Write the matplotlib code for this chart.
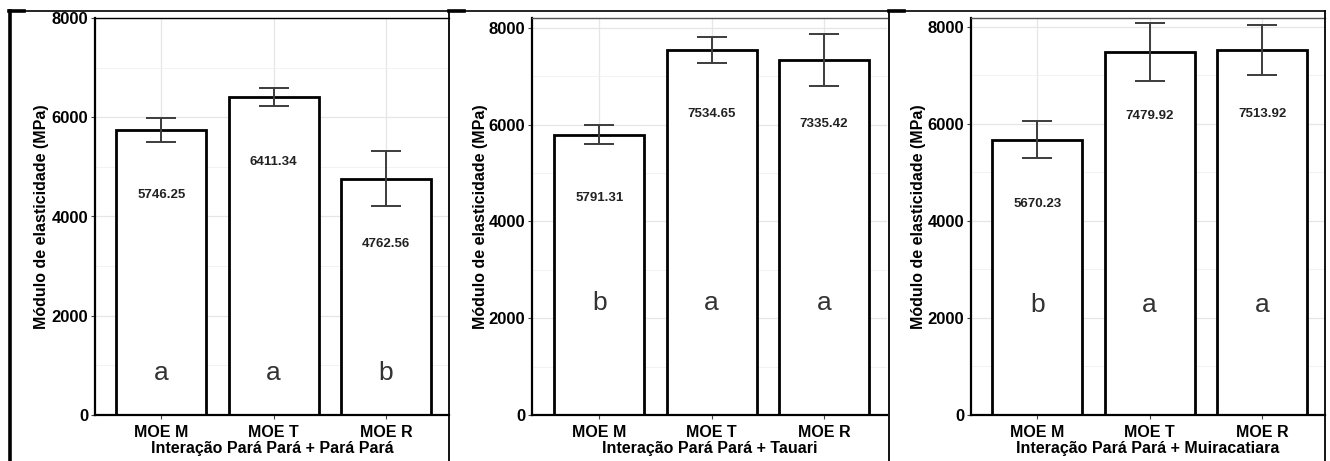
import numpy as np
import matplotlib.pyplot as plt
from matplotlib.lines import Line2D

plt.rcParams['font.family'] = ['Liberation Sans', 'DejaVu Sans']

categories = ['MOE M', 'MOE T', 'MOE R']

titles = ['Interação Pará Pará + Pará Pará',
          'Interação Pará Pará + Tauari',
          'Interação Pará Pará + Muiracatiara']

means_pp = [5746.25, 6411.34, 4762.56]
means_tauari = [5791.31, 7534.65, 7335.42]
means_muira = [5670.23, 7479.92, 7513.92]

err_pp = [245, 180, 560]
err_tauari = [195, 265, 535]
err_muira = [385, 590, 515]

letters_pp = ['a', 'a', 'b']
letters_tauari = ['b', 'a', 'a']
letters_muira = ['b', 'a', 'a']

W, H = 1330, 461
fig = plt.figure(figsize=(W / 100, H / 100), dpi=100)


def px_box(x0, x1, ytop, ybot):
    return [x0 / W, 1 - ybot / H, (x1 - x0) / W, (ybot - ytop) / H]


panels = [
    dict(box=px_box(95, 449, 18, 415), ymax=8000, xlim=(0.41, 3.56),
         means=means_pp, err=err_pp, letters=letters_pp, letter_y=700,
         ylab_x=42, top_col='black'),
    dict(box=px_box(532, 887, 18, 415), ymax=8200, xlim=(0.40, 3.56),
         means=means_tauari, err=err_tauari, letters=letters_tauari, letter_y=2160,
         ylab_x=480, top_col='#555555'),
    dict(box=px_box(971, 1325, 18, 415), ymax=8180, xlim=(0.41, 3.56),
         means=means_muira, err=err_muira, letters=letters_muira, letter_y=2130,
         ylab_x=918, top_col='#555555'),
]

x = np.arange(1, len(categories) + 1)

for p, title in zip(panels, titles):
    ax = fig.add_axes(p['box'])
    ax.set_xlim(*p['xlim'])
    ax.set_ylim(0, p['ymax'])

    # grid like theme_bw
    ax.set_yticks([0, 2000, 4000, 6000, 8000])
    ax.set_yticks([1000, 3000, 5000, 7000], minor=True)
    ax.grid(True, which='major', color='#e6e6e6', linewidth=0.9, zorder=0)
    ax.grid(True, which='minor', axis='y', color='#f0f0f0', linewidth=0.6, zorder=0)
    ax.set_axisbelow(True)

    ax.bar(x, p['means'], width=0.8, color='white', edgecolor='black',
           linewidth=2.0, zorder=2)
    ax.errorbar(x, p['means'], yerr=p['err'], fmt='none', ecolor='#3c3c3c',
                elinewidth=1.4, capsize=11, capthick=1.4, zorder=3)

    for xi, m in zip(x, p['means']):
        ax.text(xi, m - 1380, f'{m:.2f}', ha='center', va='baseline',
                fontsize=9.5, fontweight='bold', color='#222222', zorder=4)
    for xi, lt in zip(x, p['letters']):
        ax.text(xi, p['letter_y'], lt, ha='center', va='baseline',
                fontsize=19, color='#333333', zorder=4)

    ax.set_xticks(x)
    ax.set_xticklabels(categories, fontsize=11.5, fontweight='bold')
    ax.tick_params(axis='x', length=3, pad=4, color='#444444')
    ax.tick_params(axis='y', which='major', length=3, pad=2, labelsize=12, color='#444444')
    ax.tick_params(axis='y', which='minor', length=0)
    for lab in ax.get_yticklabels():
        lab.set_fontweight('bold')

    ax.set_xlabel(title, fontsize=11.5, fontweight='bold', labelpad=1)
    ax.set_ylabel('Módulo de elasticidade (MPa)', fontsize=11.5, fontweight='bold')
    ax.yaxis.label.set_va('center')
    x0 = p['box'][0] * W
    ax.yaxis.set_label_coords((p['ylab_x'] - x0) / (p['box'][2] * W), 0.5)

    ax.spines['left'].set_linewidth(1.6)
    ax.spines['bottom'].set_linewidth(1.6)
    ax.spines['top'].set_linewidth(1.0)
    ax.spines['top'].set_color(p['top_col'])
    ax.spines['right'].set_visible(False)

# frame lines around the three pictures
def fig_line(xs, ys, lw):
    fig.add_artist(Line2D([v / W for v in xs], [1 - v / H for v in ys],
                          color='black', linewidth=lw, transform=fig.transFigure))

fig_line([9, 1325], [11, 11], 1.2)
fig_line([9.5, 9.5], [11, 461], 2.6)
fig_line([449, 449], [11, 461], 1.3)
fig_line([889, 889], [11, 461], 1.3)
fig_line([1325, 1325], [11, 461], 1.3)
for xs in (9, 449, 889):
    fig_line([xs, xs + 15], [11.5, 11.5], 2.6)

fig.savefig('out.png', dpi=100)
